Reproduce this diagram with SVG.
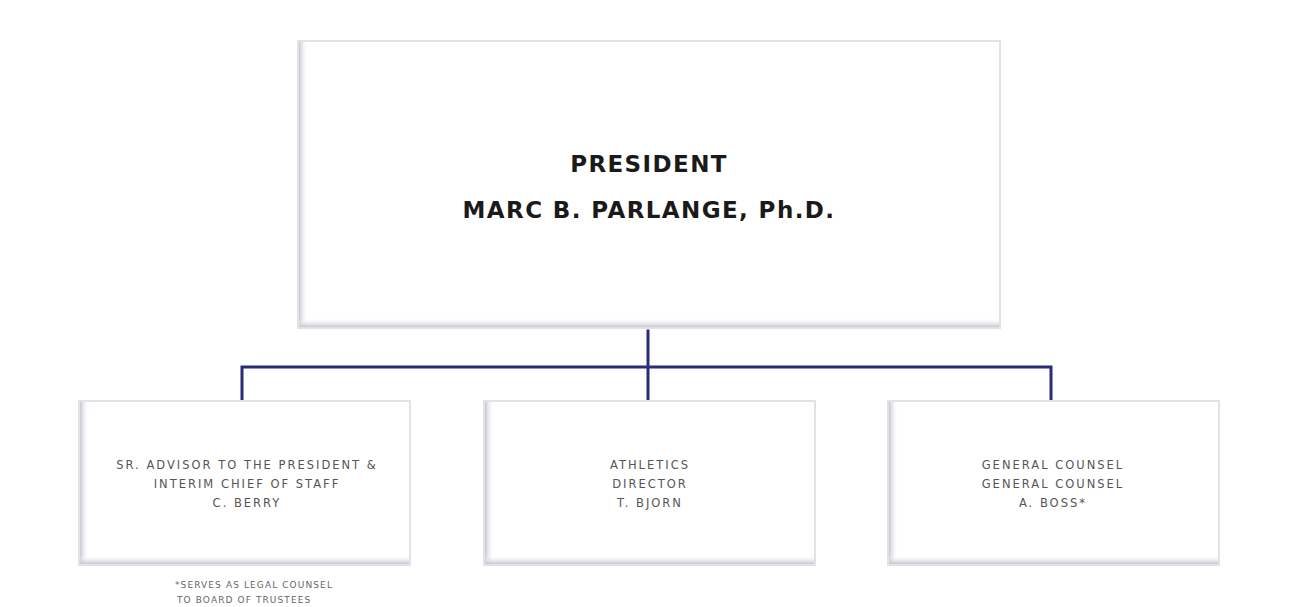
<svg xmlns="http://www.w3.org/2000/svg" width="1291" height="607" viewBox="0 0 1291 607">
  <style>
    .frame { fill: #ffffff; stroke: #e2e2e8; stroke-width: 2; }
    .title { font-family: "DejaVu Sans", Verdana, sans-serif; font-weight: bold; font-size: 23px; fill: #1a1a1a; text-anchor: middle; letter-spacing: 1.4px; }
    .label { font-family: "DejaVu Sans", Verdana, sans-serif; font-size: 11.5px; fill: #555; text-anchor: middle; letter-spacing: 2px; }
    .note { font-family: "DejaVu Sans", Verdana, sans-serif; font-size: 9px; fill: #666; letter-spacing: 1.1px; }
    .wire { fill: none; stroke: #2b2b78; stroke-width: 3; stroke-linecap: square; }
  </style>
  <defs>
    <linearGradient id="shadeLeft" x1="0" y1="0" x2="1" y2="0">
      <stop offset="0" stop-color="#c6c6d0"/>
      <stop offset="1" stop-color="#ffffff" stop-opacity="0"/>
    </linearGradient>
    <linearGradient id="shadeBottom" x1="0" y1="1" x2="0" y2="0">
      <stop offset="0" stop-color="#c6c6d0"/>
      <stop offset="1" stop-color="#ffffff" stop-opacity="0"/>
    </linearGradient>
  </defs>

  <rect width="1291" height="607" fill="#ffffff"/>

  <!-- connectors -->
  <g id="connectors">
    <path class="wire" d="M648 331 V400"/>
    <path class="wire" d="M242 400 V367 H1051 V400"/>
  </g>

  <!-- president -->
  <g id="president">
    <rect class="frame" x="298" y="41" width="702" height="287"/>
    <rect x="299" y="42" width="9" height="285" fill="url(#shadeLeft)"/>
    <rect x="299" y="318" width="700" height="9" fill="url(#shadeBottom)"/>
    <text class="title" x="649" y="172">PRESIDENT</text>
    <text class="title" x="649" y="218">MARC B. PARLANGE, Ph.D.</text>
  </g>

  <!-- senior advisor -->
  <g id="advisor">
    <rect class="frame" x="79" y="401" width="331" height="164"/>
    <rect x="80" y="402" width="9" height="162" fill="url(#shadeLeft)"/>
    <rect x="80" y="555" width="329" height="9" fill="url(#shadeBottom)"/>
    <text class="label" x="247" y="469">SR. ADVISOR TO THE PRESIDENT &amp;</text>
    <text class="label" x="247" y="488">INTERIM CHIEF OF STAFF</text>
    <text class="label" x="247" y="507">C. BERRY</text>
  </g>

  <!-- athletics -->
  <g id="athletics">
    <rect class="frame" x="484" y="401" width="331" height="164"/>
    <rect x="485" y="402" width="9" height="162" fill="url(#shadeLeft)"/>
    <rect x="485" y="555" width="329" height="9" fill="url(#shadeBottom)"/>
    <text class="label" x="650" y="469">ATHLETICS</text>
    <text class="label" x="650" y="488">DIRECTOR</text>
    <text class="label" x="650" y="507">T. BJORN</text>
  </g>

  <!-- general counsel -->
  <g id="counsel">
    <rect class="frame" x="888" y="401" width="331" height="164"/>
    <rect x="889" y="402" width="9" height="162" fill="url(#shadeLeft)"/>
    <rect x="889" y="555" width="329" height="9" fill="url(#shadeBottom)"/>
    <text class="label" x="1053" y="469">GENERAL COUNSEL</text>
    <text class="label" x="1053" y="488">GENERAL COUNSEL</text>
    <text class="label" x="1053" y="507">A. BOSS*</text>
  </g>

  <!-- footnote -->
  <g id="footnote">
    <text class="note" x="175" y="588">*SERVES AS LEGAL COUNSEL</text>
    <text class="note" x="177" y="603">TO BOARD OF TRUSTEES</text>
  </g>
</svg>
